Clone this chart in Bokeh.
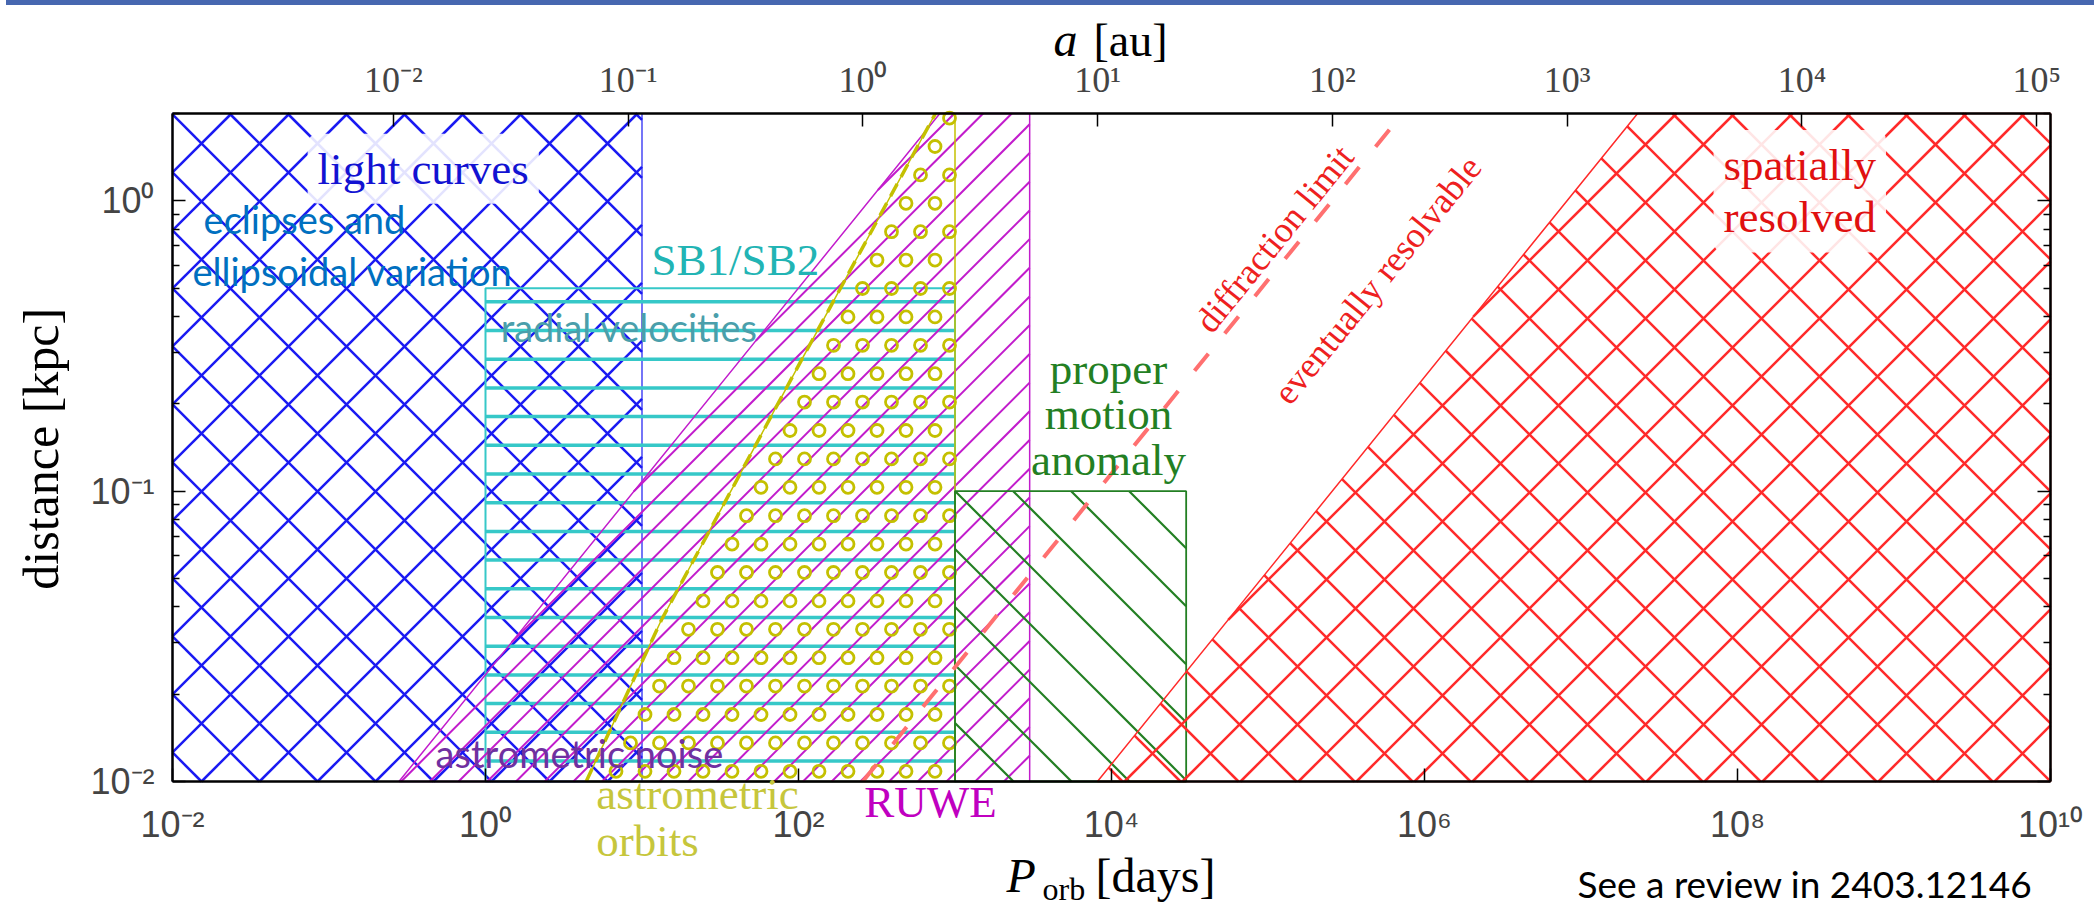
import math
from bokeh.plotting import figure
from bokeh.models import (Range1d, LogScale, LogAxis, FixedTicker, CustomJSTickFormatter, Label, Div)
from bokeh.layouts import column
from bokeh.embed import file_html
from bokeh.resources import INLINE

# ---------------- data ----------------
P_MIN, P_MAX = 1e-2, 1e10          # orbital period range [days]
D_MIN, D_MAX = 1e-2, 2.0           # distance range [kpc]
M_TOTAL = 2.0                      # total binary mass [Msun] used for the a [au] axis

# light curves (eclipses, ellipsoidal variation)
lc_P = [1e-2, 10.0, 10.0, 1e-2]
lc_d = [1e-2, 1e-2, 2.0, 2.0]
# radial velocities (SB1/SB2)
rv_P = [1.0, 1000.0, 1000.0, 1.0]
rv_d = [1e-2, 1e-2, 0.5, 0.5]
# RUWE / astrometric noise
ruwe_P = [0.28, 800.0, 3000.0, 3000.0]
ruwe_d = [1e-2, 2.0, 2.0, 1e-2]
# astrometric orbits
orb_P = [4.4, 13.3, 103.0, 750.0, 1000.0, 1000.0]
orb_d = [1e-2, 0.036, 0.279, 2.0, 2.0, 1e-2]
orb_edge_P = [4.4, 13.3, 103.0, 750.0]
orb_edge_d = [1e-2, 0.036, 0.279, 2.0]
# proper motion anomaly
pma_P = [1000.0, 30000.0, 30000.0, 1000.0]
pma_d = [1e-2, 1e-2, 0.1, 0.1]
# spatially resolved
res_P = [8130.0, 2.3e7, 1e10, 1e10]
res_d = [1e-2, 2.0, 2.0, 1e-2]
# diffraction limit
diff_P = [257.0, 7.24e5]
diff_d = [1e-2, 2.0]

x_major = [10.0 ** k for k in range(-2, 11, 2)]
y_major = [1e-2, 1e-1, 1.0]
y_minor = [m * 10.0 ** e for e in (-2, -1, 0) for m in range(2, 10) if m * 10.0 ** e <= D_MAX]
a_major = [10.0 ** k for k in range(-2, 6)]


def a_of_P(P):
    return (P / 365.25) ** (2.0 / 3.0) * M_TOTAL ** (1.0 / 3.0)


# ---------------- geometry (pixels) ----------------
FIG_W, FIG_H = 2094, 901
M_LEFT, M_RIGHT, M_TOP, M_BOTTOM = 172, 44, 108, 125
FRAME_W = FIG_W - M_LEFT - M_RIGHT
FRAME_H = FIG_H - M_TOP - M_BOTTOM
KX = FRAME_W / math.log10(P_MAX / P_MIN)   # px per decade
KY = FRAME_H / math.log10(D_MAX / D_MIN)

x_lo = 10 ** (math.log10(P_MIN) - M_LEFT / KX)
x_hi = 10 ** (math.log10(P_MAX) + M_RIGHT / KX)
y_lo = 10 ** (math.log10(D_MIN) - M_BOTTOM / KY)
y_hi = 10 ** (math.log10(D_MAX) + M_TOP / KY)


def uv(P, d):
    return math.log10(P) * KX, math.log10(d) * KY


def from_uv(u, v):
    return 10 ** (u / KX), 10 ** (v / KY)


def hatch_segments(Ps, ds, direction, spacing, phase):
    pts = [uv(a, b) for a, b in zip(Ps, ds)]
    dx, dy = direction
    nx, ny = -dy, dx
    nn = nx * nx + ny * ny
    cs = [nx * u + ny * v for u, v in pts]
    k0 = math.floor((min(cs) - phase) / spacing)
    k1 = math.ceil((max(cs) - phase) / spacing)
    out = ([], [], [], [])
    for k in range(k0, k1 + 1):
        c = phase + k * spacing
        p0 = (c * nx / nn, c * ny / nn)
        ts = []
        for i in range(len(pts)):
            a = pts[i]
            b = pts[(i + 1) % len(pts)]
            ex, ey = b[0] - a[0], b[1] - a[1]
            den = dx * ey - dy * ex
            if abs(den) < 1e-12:
                continue
            rx, ry = a[0] - p0[0], a[1] - p0[1]
            t = (rx * ey - ry * ex) / den
            s = (rx * dy - ry * dx) / den
            if 0 <= s < 1:
                ts.append(t)
        ts.sort()
        for j in range(0, len(ts) - 1, 2):
            xa, ya = from_uv(p0[0] + ts[j] * dx, p0[1] + ts[j] * dy)
            xb, yb = from_uv(p0[0] + ts[j + 1] * dx, p0[1] + ts[j + 1] * dy)
            out[0].append(xa); out[1].append(ya); out[2].append(xb); out[3].append(yb)
    return out


def inside(pts, u, v):
    res = False
    n = len(pts)
    for i in range(n):
        (u1, v1), (u2, v2) = pts[i], pts[(i + 1) % n]
        if (v1 > v) != (v2 > v):
            ui = u1 + (v - v1) * (u2 - u1) / (v2 - v1)
            if u < ui:
                res = not res
    return res


def ring_lattice(Ps, ds, col, row, u0, v0, margin=4):
    pts = [uv(a, b) for a, b in zip(Ps, ds)]
    us = [q[0] for q in pts]
    vs = [q[1] for q in pts]
    xs, ys = [], []
    j0 = math.floor((min(vs) - v0) / row) - 1
    j1 = math.ceil((max(vs) - v0) / row) + 1
    for j in range(j0, j1 + 1):
        v = v0 + j * row
        off = 0.5 * col if j % 2 else 0.0
        i0 = math.floor((min(us) - u0 - off) / col) - 1
        i1 = math.ceil((max(us) - u0 - off) / col) + 1
        for i in range(i0, i1 + 1):
            u = u0 + off + i * col
            if (inside(pts, u, v) and inside(pts, u - margin, v) and inside(pts, u + margin, v)
                    and inside(pts, u, v - margin) and inside(pts, u, v + margin)):
                P, d = from_uv(u, v)
                xs.append(P); ys.append(d)
    return xs, ys


BLUE = "#1a1af2"
CYAN = "#36c8c8"
MAG = "#c21ccc"
YEL = "#c4c000"
GRN = "#237f23"
RED = "#ff2a2a"

p = figure(width=FIG_W, height=FIG_H, x_axis_type="log", y_axis_type="log",
           x_range=Range1d(x_lo, x_hi), y_range=Range1d(y_lo, y_hi),
           output_backend="svg", toolbar_location=None,
           min_border_left=0, min_border_right=0, min_border_top=0, min_border_bottom=0)
p.title.visible = False
p.xgrid.visible = False
p.ygrid.visible = False
p.outline_line_color = None
p.background_fill_color = "white"
p.border_fill_color = "white"

p.extra_x_ranges = {"au": Range1d(a_of_P(x_lo), a_of_P(x_hi))}
p.extra_x_scales = {"au": LogScale()}


def draw_hatch(Ps, ds, color, lw, families):
    for direction, spacing, phase in families:
        x0, y0, x1, y1 = hatch_segments(Ps, ds, direction, spacing, phase)
        p.segment(x0=x0, y0=y0, x1=x1, y1=y1, line_color=color, line_width=lw)


UP, DOWN, HORIZ = (1, 1), (1, -1), (1, 0)

# light curves: diagonal cross
draw_hatch(lc_P, lc_d, BLUE, 2.5, [(UP, 58, -6.6), (DOWN, 58, 5.4)])
p.patch(lc_P, lc_d, fill_color=None, line_color=BLUE, line_width=1.2)
# radial velocities: horizontal lines
draw_hatch(rv_P, rv_d, CYAN, 3.5, [(HORIZ, 28.7, 13.9)])
p.patch(rv_P, rv_d, fill_color=None, line_color=CYAN, line_width=2)
# RUWE: forward diagonal
draw_hatch(ruwe_P, ruwe_d, MAG, 2, [(UP, 28.7, 20.3)])
p.patch(ruwe_P, ruwe_d, fill_color=None, line_color=MAG, line_width=1.5)
# astrometric orbits: staggered rings
rx, ry = ring_lattice(orb_P, orb_d, 29.0, 28.4, 377.0, -87.6)
p.scatter(rx, ry, marker="circle", size=12, fill_color=None, line_color=YEL, line_width=2.8)
p.patch(orb_P, orb_d, fill_color=None, line_color=YEL, line_width=1.5)
p.line(orb_edge_P, orb_edge_d, line_color=YEL, line_width=3.5, line_dash="14 8")
# proper motion anomaly: back diagonal
draw_hatch(pma_P, pma_d, GRN, 2.2, [(DOWN, 58, 5.4)])
p.patch(pma_P, pma_d, fill_color=None, line_color=GRN, line_width=1.8)
# spatially resolved: diagonal cross
draw_hatch(res_P, res_d, RED, 2.5, [(UP, 58, -1.6), (DOWN, 58, -1.6)])
p.patch(res_P, res_d, fill_color=None, line_color=RED, line_width=1.5)
# diffraction limit
p.line(diff_P, diff_d, line_color="#ff7070", line_width=4, line_dash="22 26")

# ---------------- axes (matplotlib-like box) ----------------
sup_code = r'''
const sup = {"-": "\u207B", "0": "\u2070", "1": "\u00B9", "2": "\u00B2", "3": "\u00B3",
             "4": "\u2074", "5": "\u2075", "6": "\u2076", "7": "\u2077", "8": "\u2078", "9": "\u2079"};
const e = Math.round(Math.log10(tick));
return "10" + String(e).split("").map(c => sup[c]).join("");
'''


def style_axis(ax):
    ax.axis_line_color = "black"
    ax.axis_line_width = 2.5
    ax.major_tick_in = 13
    ax.major_tick_out = 0
    ax.minor_tick_in = 7
    ax.minor_tick_out = 0
    ax.major_tick_line_color = "black"
    ax.major_tick_line_width = 1.5
    ax.minor_tick_line_color = "black"
    ax.minor_tick_line_width = 1.5


xa = p.xaxis[0]
xa.fixed_location = D_MIN
xa.bounds = (P_MIN, P_MAX)
xa.ticker = FixedTicker(ticks=x_major, minor_ticks=[])
xa.formatter = CustomJSTickFormatter(code=sup_code)
xa.major_label_text_font = "Liberation Sans"
xa.major_label_text_font_size = "36px"
xa.major_label_standoff = 22
style_axis(xa)

ya = p.yaxis[0]
ya.fixed_location = P_MIN
ya.bounds = (D_MIN, D_MAX)
ya.ticker = FixedTicker(ticks=y_major, minor_ticks=y_minor)
ya.formatter = CustomJSTickFormatter(code=sup_code)
ya.major_label_text_font = "Liberation Sans"
ya.major_label_text_font_size = "36px"
ya.major_label_standoff = 18
style_axis(ya)

top = LogAxis(x_range_name="au", fixed_location=D_MAX, bounds=(a_of_P(P_MIN), a_of_P(P_MAX)),
              ticker=FixedTicker(ticks=a_major, minor_ticks=[]),
              formatter=CustomJSTickFormatter(code=sup_code))
top.major_label_text_font = "Liberation Serif"
top.major_label_text_font_size = "36px"
top.major_label_standoff = 14
style_axis(top)
p.add_layout(top, "above")

right = LogAxis(fixed_location=P_MAX, bounds=(D_MIN, D_MAX),
                ticker=FixedTicker(ticks=y_major, minor_ticks=y_minor),
                formatter=CustomJSTickFormatter(code='return "";'))
right.major_label_text_font_size = "1px"
style_axis(right)
p.add_layout(right, "right")

# ---------------- texts ----------------
SERIF = "Liberation Serif"
SANS = "Lato"


def lab(x, y, text, color, size, font=SERIF, align="left", baseline="alphabetic", angle=0.0,
        style="normal", bg=False, line_height=1.2):
    kw = {}
    if bg:
        kw = dict(background_fill_color="white", background_fill_alpha=0.88, padding=10, border_radius=10)
    if baseline == "alphabetic":
        # y is the text baseline: anchor the middle of the em box instead
        y = y * 10 ** (0.36 * size / KY)
        baseline = "middle"
    p.add_layout(Label(x=x, y=y, text=text, text_color=color, text_font=font, text_font_size=f"{size}px",
                       text_align=align, text_baseline=baseline, angle=angle, text_font_style=style,
                       text_line_height=line_height, **kw))


lab(0.40, 1.135, "light curves", "#1212d2", 45, align="center", bg=True)
lab(0.0158, 0.776, "eclipses and", "#0070c0", 38, font=SANS)
lab(0.01342, 0.513, "ellipsoidal variation", "#0070c0", 38, font=SANS)
lab(39.5, 0.551, "SB1/SB2", "#22b4b4", 45, align="center")
lab(1.25, 0.329, "radial velocities", "#4a9fab", 38, font=SANS)
lab(0.48, 0.01127, "astrometric noise", "#7030a0", 38, font=SANS)
lab(5.1, 0.00794, "astrometric", "#c6c63c", 45)
lab(5.1, 0.00547, "orbits", "#c6c63c", 45)
lab(697, 0.00745, "RUWE", "#c000c0", 45, align="center")
lab(9570, 0.2323, "proper", GRN, 45, align="center")
lab(9570, 0.1622, "motion", GRN, 45, align="center")
lab(9570, 0.1128, "anomaly", GRN, 45, align="center")
lab(1.1e5, 0.74, "diffraction limit", "#ee2020", 36, align="center", baseline="middle", angle=0.89)
lab(5.0e5, 0.534, "eventually resolvable", "#ee2020", 36, align="center", baseline="middle", angle=0.89)
lab(2.5e8, 1.08, "spatially\nresolved", "#e01010", 45, align="center", baseline="middle", bg=True,
    line_height=1.05)

# axis titles
lab(10 ** -2.843, 0.14, "distance [kpc]", "black", 50, align="center", baseline="middle", angle=1.5708)
lab(10 ** 3.329, 10 ** -2.383, "P", "black", 48, style="italic")
lab(10 ** 3.559, 10 ** -2.41, "orb", "black", 32)
lab(10 ** 3.898, 10 ** -2.383, "[days]", "black", 48)
lab(10 ** 3.629, 10 ** 0.4966, "a", "black", 48, style="italic")
lab(10 ** 3.885, 10 ** 0.4966, "[au]", "black", 46)
lab(9.5e6, 0.00401, "See a review in 2403.12146", "black", 37, font=SANS)

bar = Div(text="", width=2088, height=5, margin=(0, 0, 0, 6), styles={"background-color": "#4767b0"})
layout = column(bar, p, spacing=0)

open("out.html", "w").write(file_html(layout, INLINE))
